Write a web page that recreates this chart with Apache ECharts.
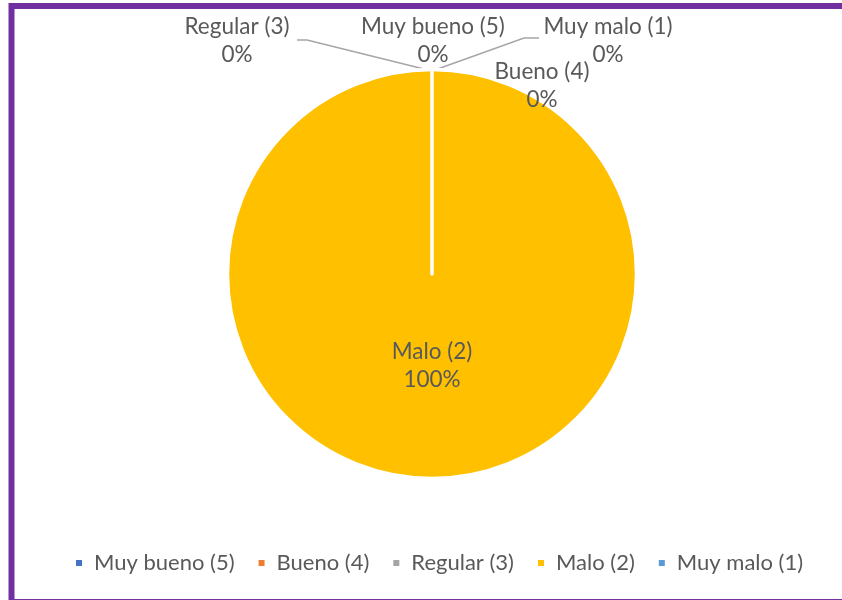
<!DOCTYPE html>
<html>
<head>
<meta charset="utf-8">
<script src="https://cdn.jsdelivr.net/npm/echarts@6/dist/echarts.min.js"></script>
<style>
  html, body { margin: 0; padding: 0; background: #fff; }
  #main { width: 842px; height: 600px; }
</style>
</head>
<body>
<div id="main"></div>
<script>
// datos del grafico
var categories = ['Muy bueno (5)', 'Bueno (4)', 'Regular (3)', 'Malo (2)', 'Muy malo (1)'];
var values = [0, 0, 0, 1, 0];
var colors = ['#4472C4', '#ED7D31', '#A5A5A5', '#FFC000', '#5B9BD5'];

// posiciones de las etiquetas (solo maquetacion)
var labelPos = {
    0: { x: 433, y: 41 },
    1: { x: 542, y: 86 },
    2: { x: 237, y: 41, line: [[432, 71], [307, 40], [297, 40]] },
    3: { x: 432, y: 366 },
    4: { x: 608, y: 41, line: [[432, 71], [524, 38], [539, 38]] }
};

var chart = echarts.init(document.getElementById('main'));

var seriesData = categories.map(function (name, i) {
    return {
        name: name,
        value: values[i],
        itemStyle: { color: colors[i] },
        labelLine: { show: !!labelPos[i].line }
    };
});

chart.setOption({
    animation: false,
    textStyle: { fontFamily: 'Lato' },
    // borde morado
    graphic: [{
        type: 'rect',
        silent: true,
        shape: { x: 11.5, y: 6, width: 1000, height: 596 },
        style: { fill: 'none', stroke: '#7030A0', lineWidth: 6 }
    }],
    legend: {
        left: 76,
        top: 549,
        padding: 0,
        icon: 'rect',
        itemWidth: 6,
        itemHeight: 6,
        itemGap: 24,
        itemStyle: { borderWidth: 0 },
        textStyle: {
            color: '#595959',
            fontSize: 22,
            fontFamily: 'Lato',
            lineHeight: 28,
            padding: [0, 0, 0, 7]
        },
        data: categories
    },
    series: [{
        type: 'pie',
        center: [432, 274],
        radius: 204.5,
        startAngle: 90,
        clockwise: true,
        avoidLabelOverlap: false,
        itemStyle: { borderColor: '#fff', borderWidth: 3.5 },
        label: {
            show: true,
            color: '#595959',
            fontSize: 22.5,
            fontFamily: 'Lato',
            lineHeight: 28,
            align: 'center',
            formatter: function (p) {
                return p.name + '\n' + Math.round(p.percent) + '%';
            }
        },
        labelLine: {
            lineStyle: { color: '#A6A6A6', width: 1.5 }
        },
        labelLayout: function (params) {
            var pos = labelPos[params.dataIndex];
            var out = { x: pos.x, y: pos.y, align: 'center', verticalAlign: 'middle' };
            if (pos.line) {
                out.labelLinePoints = pos.line;
            }
            return out;
        },
        data: seriesData
    }]
});
</script>
</body>
</html>
